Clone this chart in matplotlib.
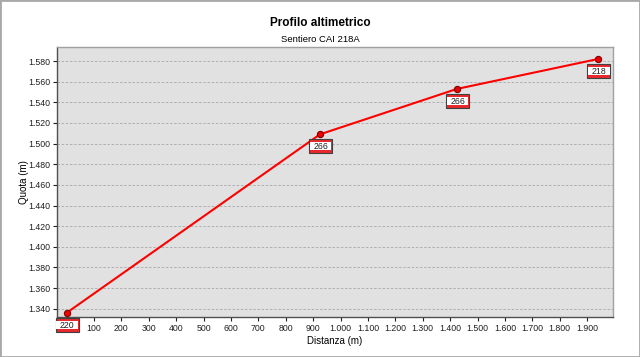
import matplotlib
matplotlib.use("Agg")
import matplotlib.pyplot as plt
from matplotlib.ticker import FuncFormatter, MultipleLocator
from matplotlib.offsetbox import DrawingArea, AnnotationBbox
from matplotlib.patches import Rectangle
from matplotlib.text import Text

plt.rcParams['font.family'] = ['Liberation Sans', 'DejaVu Sans']

# dati del profilo
distanza = [0, 925, 1425, 1940]
quota = [1336, 1509, 1553, 1582]
etichette = ["220", "266", "266", "218"]

fig = plt.figure(figsize=(6.4, 3.57), dpi=100)
ax = fig.add_axes([0.089, 0.112, 0.869, 0.756])
ax.set_facecolor("#e1e1e1")

ax.plot(distanza, quota, color="#ff0000", lw=1.5, zorder=3)
ax.plot(distanza, quota, "o", ms=4.5, mfc="#ee0000", mec="#800000", mew=0.8, zorder=4)

# etichette a riquadro sotto i punti
for x, y, t in zip(distanza, quota, etichette):
    w, h = 16.5, 10
    da = DrawingArea(w, h, 0, 0)
    da.add_artist(Rectangle((0, 0), w, h, fc="#e8282c", ec="#404040", lw=0.8))
    da.add_artist(Rectangle((0.5, 2.2), w - 1, h - 4.4, fc="white", ec="none"))
    da.add_artist(Text(w / 2, h / 2 - 0.3, t, ha="center", va="center", fontsize=6.3, color="#202020"))
    ab = AnnotationBbox(da, (x, y), xybox=(0.5, -8.6), boxcoords="offset points",
                        frameon=False, pad=0, annotation_clip=False, zorder=5)
    ax.add_artist(ab)

ax.set_xlim(-35, 1995)
ax.set_ylim(1332, 1593.5)
ax.xaxis.set_major_locator(MultipleLocator(100))
ax.yaxis.set_major_locator(MultipleLocator(20))
# lo 0 resta coperto dall'etichetta del primo punto
fmtx = FuncFormatter(lambda v, p: "" if round(v) == 0 else f"{int(round(v)):,}".replace(",", "."))
fmty = FuncFormatter(lambda v, p: f"{int(round(v)):,}".replace(",", "."))
ax.xaxis.set_major_formatter(fmtx)
ax.yaxis.set_major_formatter(fmty)
ax.tick_params(labelsize=6.3, colors="#202020", length=3, width=0.8, pad=2)
ax.grid(axis="y", color="#a8a8a8", ls=(0, (3, 2)), lw=0.6)
ax.set_axisbelow(True)

for s in ["left", "bottom"]:
    ax.spines[s].set_color("#505050")
    ax.spines[s].set_linewidth(1.0)
for s in ["top", "right"]:
    ax.spines[s].set_color("#a0a0a0")
    ax.spines[s].set_linewidth(1.0)

ax.set_xlabel("Distanza (m)", fontsize=7, labelpad=2)
ax.set_ylabel("Quota (m)", fontsize=7)
ax.yaxis.set_label_coords(-0.05, 0.5)

fig.text(0.5, 0.936, "Profilo altimetrico", ha="center", va="center", fontsize=8.5, fontweight="bold")
fig.text(0.5, 0.888, "Sentiero CAI 218A", ha="center", va="center", fontsize=6.8)

fig.patches.append(Rectangle((0, 0), 1, 1, transform=fig.transFigure, fill=False,
                             ec="#a8a8a8", lw=2))

fig.savefig("out.png", dpi=100)
